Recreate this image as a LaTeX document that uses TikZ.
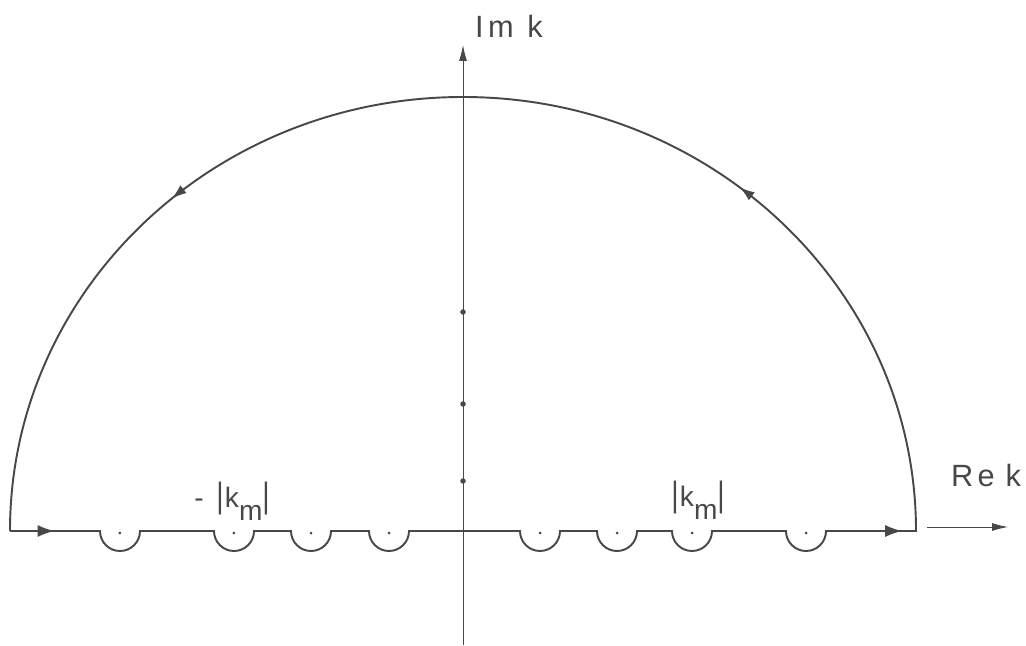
\documentclass[tikz,border=0pt]{standalone}
\usepackage{fontspec}
\usepackage{tikz}
\usetikzlibrary{arrows.meta,decorations.markings}
\newfontfamily\labfont[LetterSpace=14]{Liberation Sans}
\definecolor{ckink}{RGB}{72,72,72}
\tikzset{
  axisline/.style={draw=ckink,line width=0.5pt},
  axisarrow/.style={axisline,-{Latex[length=3.2mm,width=1.6mm]}},
  contourline/.style={draw=ckink,line width=1.1pt},
  poledot/.style={circle,fill=ckink,inner sep=0pt,minimum size=1.1mm},
  smalldot/.style={circle,fill=ckink,inner sep=0pt,minimum size=0.6mm},
  axislabel/.style={text=ckink,font=\labfont\fontsize{17.5}{20}\selectfont},
  kmlabel/.style={text=ckink,font=\labfont\fontsize{16}{18}\selectfont},
  contourarrows/.style={postaction={decorate},decoration={markings,
    mark=at position 0.018 with {\arrow{Latex[length=3.4mm,width=2.4mm]}},
    mark=at position 0.433 with {\arrow{Latex[length=3.4mm,width=2.4mm]}},
    mark=at position 0.600 with {\arrow{Latex[length=3mm,width=2mm]}},
    mark=at position 0.846 with {\arrow{Latex[length=3mm,width=2mm]}}}}
}
\newcommand{\tallbar}{\scalebox{1}[1.25]{|}}
\begin{document}
\begin{tikzpicture}[x=0.02cm,y=0.02cm]
  \useasboundingbox (-463,-114) rectangle (563,531);
  \coordinate (imlo) at (0,-114);
  \coordinate (imhi) at (0,486);
  \coordinate (relo) at (464,4);
  \coordinate (rehi) at (545,4);
  \coordinate (cleft) at (-453,0);
  \draw[axisarrow] (imlo) -- (imhi);
  \draw[axisarrow] (relo) -- (rehi);
  \draw[contourline,contourarrows] (cleft)
    -- (-363,0) arc[start angle=180,end angle=360,radius=20]
    -- (-249,0) arc[start angle=180,end angle=360,radius=20]
    -- (-172,0) arc[start angle=180,end angle=360,radius=20]
    -- (-94,0) arc[start angle=180,end angle=360,radius=20]
    -- (57,0) arc[start angle=180,end angle=360,radius=20]
    -- (134,0) arc[start angle=180,end angle=360,radius=20]
    -- (209,0) arc[start angle=180,end angle=360,radius=20]
    -- (323,0) arc[start angle=180,end angle=360,radius=20]
    -- (453,0) arc[start angle=0,end angle=180,x radius=453,y radius=434];
  \node[smalldot] (ind1) at (-343,-2) {};
  \node[smalldot] (ind2) at (-229,-2) {};
  \node[smalldot] (ind3) at (-152,-2) {};
  \node[smalldot] (ind4) at (-74,-2) {};
  \node[smalldot] (ind5) at (77,-2) {};
  \node[smalldot] (ind6) at (154,-2) {};
  \node[smalldot] (ind7) at (229,-2) {};
  \node[smalldot] (ind8) at (343,-2) {};
  \node[poledot] (pole1) at (0,50) {};
  \node[poledot] (pole2) at (0,127) {};
  \node[poledot] (pole3) at (0,219) {};
  \node[axislabel] (imlab) at (46,505) {Im\hspace{0.45em}k};
  \node[axislabel] (relab) at (523,55) {Re\hspace{0.35em}k};
  \node[kmlabel] (kmneg) at (-231,30) {-\hspace{0.45em}\tallbar\hspace{0.05em}k\raisebox{-0.9ex}{m}\tallbar};
  \node[kmlabel] (kmpos) at (235,31) {\tallbar\hspace{0.05em}k\raisebox{-0.9ex}{m}\tallbar};
\end{tikzpicture}
\end{document}
